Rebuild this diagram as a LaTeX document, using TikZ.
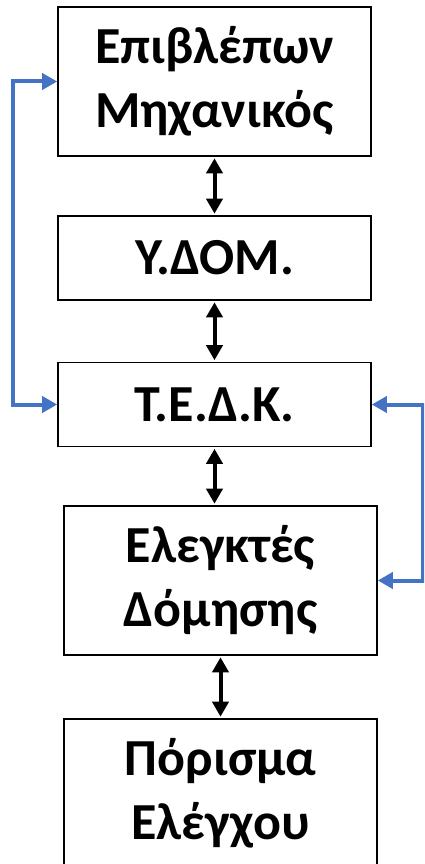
\documentclass[tikz,border=0pt]{standalone}
\usepackage{fontspec}
\setmainfont{Carlito}
\usetikzlibrary{arrows.meta}
\definecolor{linkblue}{HTML}{4472C4}
\tikzset{
  box/.style={draw=black, line width=1.6pt, minimum width=313pt, inner sep=0pt, align=center,
    font=\fontsize{52}{64}\selectfont\bfseries},
  tall/.style={minimum height=149pt},
  short/.style={minimum height=84pt},
  dbl/.style={line width=4pt, {Triangle[width=16pt,length=15pt]}-{Triangle[width=16pt,length=15pt]}, shorten <=1.5pt, shorten >=1.5pt},
  bluelink/.style={draw=linkblue, line width=4pt, {Triangle[width=16pt,length=15pt]}-{Triangle[width=16pt,length=15pt]}},
}
\begin{document}
\begin{tikzpicture}[x=1pt,y=-1pt]
\useasboundingbox (0,0) rectangle (424,864);
\clip (0,0) rectangle (424,864);
\node[box,tall]  (b1) at (214.5,81.5) {Επιβλέπων\\Μηχανικός};
\node[box,short] (b2) at (214.5,258) {Υ.ΔΟΜ.};
\node[box,short] (b3) at (214.5,404.5) {Τ.Ε.Δ.Κ.};
\node[box,tall]  (b4) at (220.5,580.5) {Ελεγκτές\\Δόμησης};
\node[box,tall]  (b5) at (220.5,793.5) {Πόρισμα\\Ελέγχου};
\draw[dbl] (b1.south) -- (b2.north);
\draw[dbl] (b2.south) -- (b3.north);
\draw[dbl] (b3.south) -- (b3.south |- b4.north);
\draw[dbl] (b4.south) -- (b5.north);
\coordinate (lc) at (13,81.5);
\coordinate (rc) at (422.5,404.5);
\draw[bluelink] (b1.west) -- (lc) |- (b3.west);
\draw[bluelink] (b3.east) -- (rc) |- (b4.east);
\end{tikzpicture}
\end{document}
